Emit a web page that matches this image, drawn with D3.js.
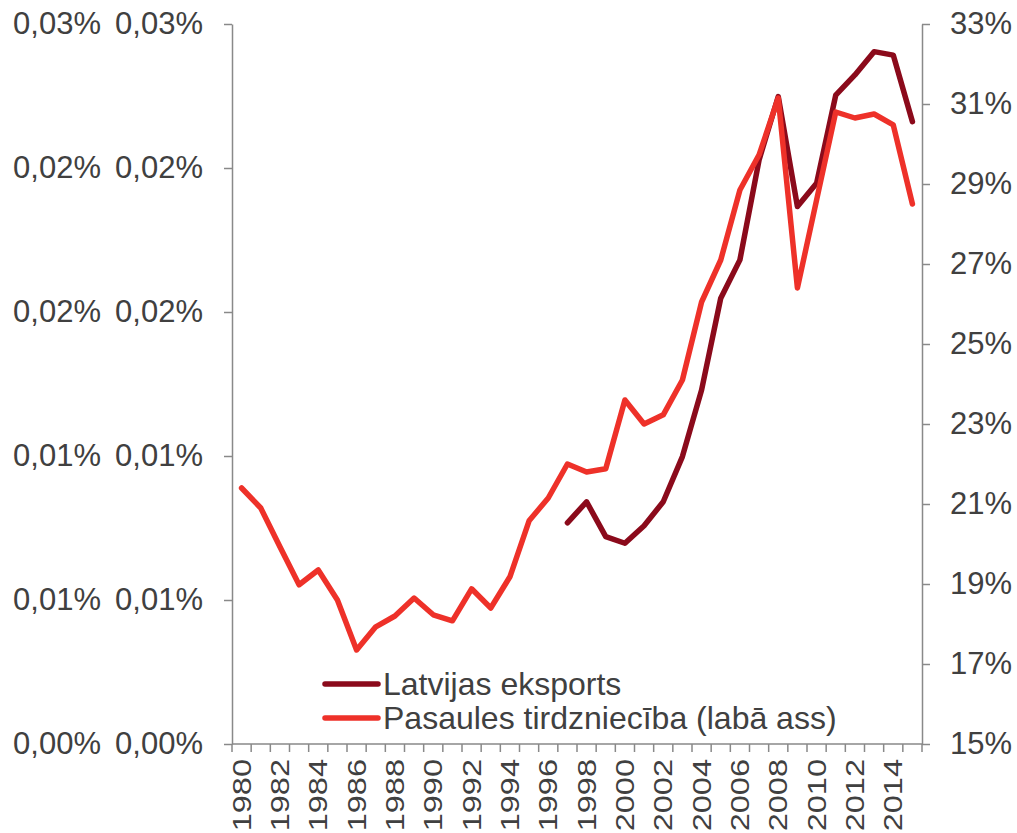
<!DOCTYPE html>
<html>
<head>
<meta charset="utf-8">
<script src="https://cdn.jsdelivr.net/npm/d3@7"></script>
<style>
  html, body { margin: 0; padding: 0; background: #ffffff; }
  svg { display: block; font-family: "Liberation Sans", Arial, sans-serif; }
</style>
</head>
<body>
<svg id="chart" width="1017" height="833"></svg>
<script>
// ---- data ----
const years = [1980,1981,1982,1983,1984,1985,1986,1987,1988,1989,1990,1991,1992,1993,1994,1995,1996,1997,1998,1999,2000,2001,2002,2003,2004,2005,2006,2007,2008,2009,2010,2011,2012,2013,2014,2015];
// Latvian exports, share (%), left axis
const latviaExport = [null,null,null,null,null,null,null,null,null,null,null,null,null,null,null,null,null,
  0.00768,0.00841,0.00720,0.00697,0.00758,0.00841,0.00998,0.01229,0.01548,0.01681,0.02028,0.02248,0.01866,0.01947,0.02253,0.02323,0.02404,0.02392,0.02161];
// World trade (% of GDP), right axis
const worldTrade = [21.4,20.9,19.93,18.98,19.35,18.6,17.35,17.93,18.2,18.65,18.23,18.08,18.88,18.4,19.18,20.58,21.15,
  22.0,21.8,21.88,23.6,23.0,23.23,24.1,26.05,27.1,28.85,29.73,31.15,26.4,28.6,30.8,30.65,30.75,30.48,28.5];
const leftTicks = [0,0.005,0.01,0.015,0.02,0.025];
const leftTickLabels = ["0,00%","0,01%","0,01%","0,02%","0,02%","0,03%"];
const rightTicks = [15,17,19,21,23,25,27,29,31,33];
const xLabelYears = [1980,1982,1984,1986,1988,1990,1992,1994,1996,1998,2000,2002,2004,2006,2008,2010,2012,2014];
const seriesNames = ["Latvijas eksports","Pasaules tirdzniecība (labā ass)"];
const seriesColors = ["#8b0a1b","#ee3129"];

// ---- layout ----
const svg = d3.select("#chart");
const L = 232, R = 922, T = 24, B = 744;
const axisColor = "#898989", textColor = "#404040";

const x = d3.scaleBand().domain(years).range([L, R]).padding(0);
const cx = d => x(d) + x.bandwidth() / 2;
const yL = d3.scaleLinear().domain([0, 0.025]).range([B, T]);
const yR = d3.scaleLinear().domain([15, 33]).range([B, T]);

function styleAxis(g) {
  g.selectAll("path.domain").attr("stroke", axisColor).attr("stroke-width", 1.5);
  g.selectAll(".tick line").attr("stroke", axisColor).attr("stroke-width", 1.5);
  g.selectAll(".tick text").attr("fill", textColor).attr("font-size", 31)
    .attr("font-family", "'Liberation Sans', Arial, sans-serif");
}

// left axis (inner label column)
const gL = svg.append("g").attr("transform", `translate(${L},0)`)
  .call(d3.axisLeft(yL).tickValues(leftTicks).tickFormat((d, i) => leftTickLabels[i])
    .tickSizeInner(8).tickSizeOuter(0).tickPadding(21));
styleAxis(gL);
// left axis (outer duplicated label column)
const gL2 = svg.append("g").attr("transform", `translate(${L},0)`)
  .call(d3.axisLeft(yL).tickValues(leftTicks).tickFormat((d, i) => leftTickLabels[i])
    .tickSize(0).tickPadding(131));
gL2.select("path.domain").remove();
gL2.selectAll(".tick line").remove();
styleAxis(gL2);

// right axis
const gR = svg.append("g").attr("transform", `translate(${R},0)`)
  .call(d3.axisRight(yR).tickValues(rightTicks).tickFormat(d => d + "%")
    .tickSizeInner(8).tickSizeOuter(0).tickPadding(20));
styleAxis(gR);

// bottom axis
const gB = svg.append("g").attr("transform", `translate(0,${B})`);
gB.append("line").attr("x1", L).attr("x2", R).attr("y1", 0).attr("y2", 0)
  .attr("stroke", axisColor).attr("stroke-width", 1.5);
gB.selectAll("line.tk").data(years.map(d => x(d)).concat([R])).join("line").attr("class", "tk")
  .attr("x1", d => d).attr("x2", d => d).attr("y1", 0).attr("y2", 8)
  .attr("stroke", axisColor).attr("stroke-width", 1.5);
gB.selectAll("text").data(xLabelYears).join("text")
  .attr("transform", d => `translate(${cx(d)},15) rotate(-90) scale(1.25,1)`)
  .attr("text-anchor", "end").attr("dy", "0.35em")
  .attr("font-size", 26).attr("fill", textColor)
  .text(d => d);

// lines
const lineL = d3.line().defined(d => d.v != null).x(d => cx(d.year)).y(d => yL(d.v));
const lineR = d3.line().defined(d => d.v != null).x(d => cx(d.year)).y(d => yR(d.v));
svg.append("path").datum(years.map((yr, i) => ({year: yr, v: latviaExport[i]})))
  .attr("d", lineL).attr("fill", "none").attr("stroke", seriesColors[0])
  .attr("stroke-width", 5.5).attr("stroke-linejoin", "round").attr("stroke-linecap", "round");
svg.append("path").datum(years.map((yr, i) => ({year: yr, v: worldTrade[i]})))
  .attr("d", lineR).attr("fill", "none").attr("stroke", seriesColors[1])
  .attr("stroke-width", 5.5).attr("stroke-linejoin", "round").attr("stroke-linecap", "round");

// legend
const lg = svg.append("g");
seriesNames.forEach((name, i) => {
  const yy = 684 + i * 34;
  lg.append("line").attr("x1", 325).attr("x2", 378).attr("y1", yy).attr("y2", yy)
    .attr("stroke", seriesColors[i]).attr("stroke-width", 5.5).attr("stroke-linecap", "round");
  lg.append("text").attr("x", 383).attr("y", yy).attr("dy", "0.35em")
    .attr("font-size", 32).attr("fill", textColor).text(name);
});
</script>
</body>
</html>
